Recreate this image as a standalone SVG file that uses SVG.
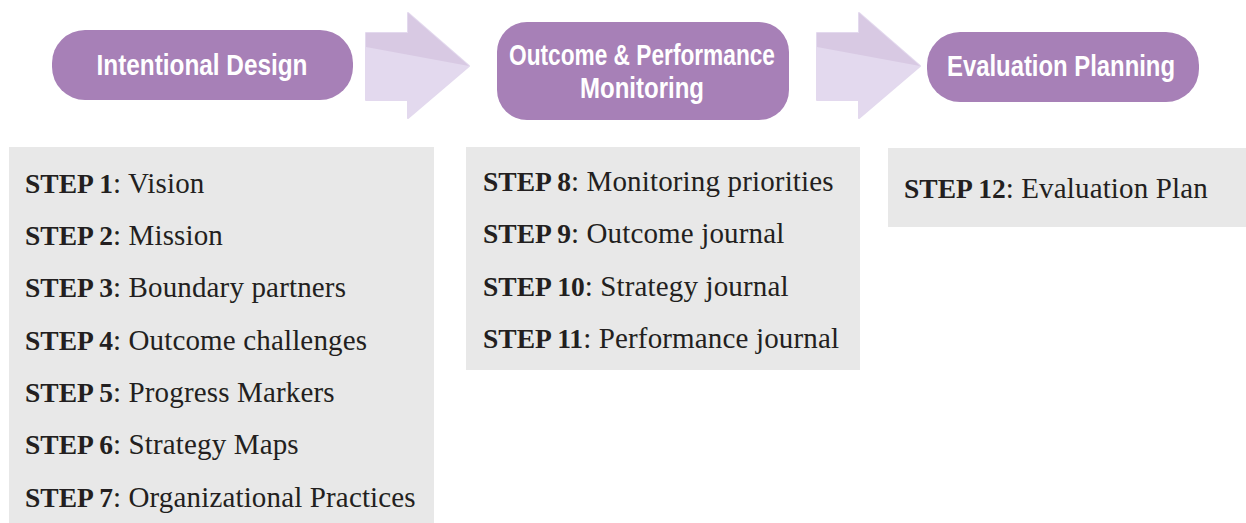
<svg xmlns="http://www.w3.org/2000/svg" width="1246" height="523" viewBox="0 0 1246 523">
<style>
.pill{fill:#a780b7}
.ptxt{font-family:"Liberation Sans",Arial,sans-serif;font-weight:bold;font-size:30px;fill:#ffffff;text-anchor:middle}
.box{fill:#e8e8e8}
.step{font-family:"Liberation Serif","Times New Roman",serif;font-size:29px;letter-spacing:0.15px;fill:#231f20}
.step tspan.b{font-weight:bold;font-size:27.5px;letter-spacing:0}
.alo{fill:#e3d9ee;stroke:#e3d9ee;stroke-width:2;stroke-linejoin:round}
.ahi{fill:#d8c9e3}
</style>
<defs>
<g id="arrowShape">
<polygon class="alo" points="366,33 408,33 408,13 469,66 408,118 408,100 366,100"/>
<polygon class="ahi" points="366,33 408,33 408,13 469,66 366,47"/>
</g>
</defs>
<g id="connectors">
<use href="#arrowShape"/>
<use href="#arrowShape" transform="translate(451,0)"/>
</g>
<g id="node-intentional-design">
<rect class="pill" x="52" y="30" width="301" height="70" rx="33"/>
<text class="ptxt" x="202" y="75" textLength="211" lengthAdjust="spacingAndGlyphs">Intentional Design</text>
</g>
<g id="node-outcome-performance">
<rect class="pill" x="497" y="22" width="292" height="98" rx="30"/>
<text class="ptxt" x="642" y="65" textLength="266" lengthAdjust="spacingAndGlyphs">Outcome &amp; Performance</text>
<text class="ptxt" x="642" y="98" textLength="124" lengthAdjust="spacingAndGlyphs">Monitoring</text>
</g>
<g id="node-evaluation-planning">
<rect class="pill" x="927" y="32" width="272" height="70" rx="33"/>
<text class="ptxt" x="1061" y="76" textLength="228" lengthAdjust="spacingAndGlyphs">Evaluation Planning</text>
</g>
<g id="list-intentional-design">
<rect class="box" x="9" y="147" width="425" height="376"/>
<text class="step" x="25" y="193"><tspan class="b">STEP 1</tspan>: Vision</text>
<text class="step" x="25" y="245"><tspan class="b">STEP 2</tspan>: Mission</text>
<text class="step" x="25" y="297"><tspan class="b">STEP 3</tspan>: Boundary partners</text>
<text class="step" x="25" y="350"><tspan class="b">STEP 4</tspan>: Outcome challenges</text>
<text class="step" x="25" y="402"><tspan class="b">STEP 5</tspan>: Progress Markers</text>
<text class="step" x="25" y="454"><tspan class="b">STEP 6</tspan>: Strategy Maps</text>
<text class="step" x="25" y="507"><tspan class="b">STEP 7</tspan>: Organizational Practices</text>
</g>
<g id="list-outcome-performance">
<rect class="box" x="466" y="147" width="394" height="223"/>
<text class="step" x="483" y="191"><tspan class="b">STEP 8</tspan>: Monitoring priorities</text>
<text class="step" x="483" y="243"><tspan class="b">STEP 9</tspan>: Outcome journal</text>
<text class="step" x="483" y="296"><tspan class="b">STEP 10</tspan>: Strategy journal</text>
<text class="step" x="483" y="348"><tspan class="b">STEP 11</tspan>: Performance journal</text>
</g>
<g id="list-evaluation-planning">
<rect class="box" x="888" y="148" width="358" height="79"/>
<text class="step" x="904" y="198"><tspan class="b">STEP 12</tspan>: Evaluation Plan</text>
</g>
</svg>
